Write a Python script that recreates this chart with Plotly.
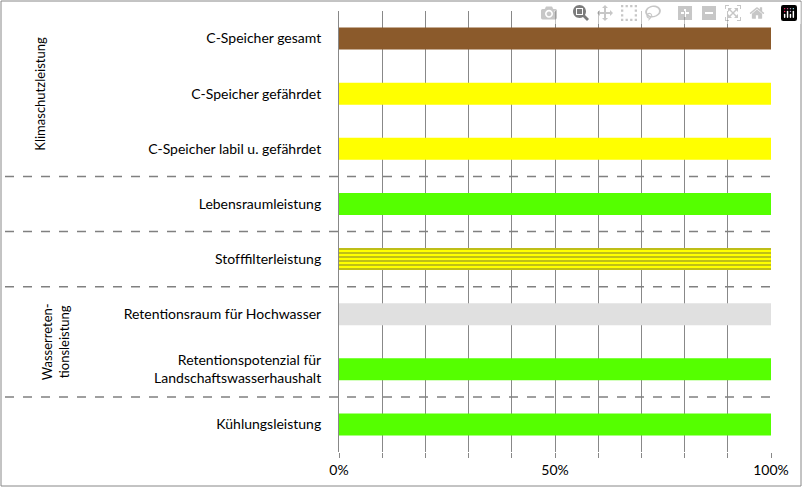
import plotly.graph_objects as go

# categories (top to bottom) and values
categories = [
    "C-Speicher gesamt",
    "C-Speicher gefährdet",
    "C-Speicher labil u. gefährdet",
    "Lebensraumleistung",
    "Stofffilterleistung",
    "Retentionsraum für Hochwasser",
    "Retentionspotenzial für<br>Landschaftswasserhaushalt",
    "Kühlungsleistung",
]
values = [1, 1, 1, 1, 1, 1, 1, 1]
colors = ["#8b5a2b", "#ffff00", "#ffff00", "#55ff00", "#ffff00", "#e0e0e0", "#55ff00", "#55ff00"]
patterns = ["", "", "", "", "-", "", "", ""]
separators = [2.5, 3.5, 4.5, 6.5]
x_tickvals = [0, 0.5, 1]
x_ticktext = ["0%", "50%", "100%"]

W, H = 803, 488
L, R, T, B = 339, 32, 11, 36
pw = W - L - R

fig = go.Figure(go.Bar(
    x=values, y=categories, orientation="h", width=0.4,
    marker=dict(color=colors, line=dict(width=0),
                pattern=dict(shape=patterns, fgcolor="black", bgcolor="#ffff00",
                             size=4, solidity=0.35)),
))

shapes = []
for s in separators:
    shapes.append(dict(type="line", xref="paper", yref="y", x0=(5 - L) / pw, x1=1,
                       y0=s, y1=s, line=dict(color="#808080", width=1.5, dash="dash")))
# chart frame
shapes.append(dict(type="rect", xref="paper", yref="paper",
                   x0=(1 - L) / pw, x1=1 + (R - 2) / pw,
                   y0=-(B - 2) / (H - T - B), y1=1 + (T - 1) / (H - T - B),
                   line=dict(color="#888888", width=1)))

fig.update_layout(
    width=W, height=H, margin=dict(l=L, r=R, t=T, b=B),
    plot_bgcolor="white", paper_bgcolor="white",
    font=dict(family="Lato, Open Sans, sans-serif", size=14, color="black"),
    showlegend=False, bargap=0.6, shapes=shapes,
    annotations=[
        dict(text="Klimaschutzleistung", xref="paper", yref="y", x=(30 - L) / pw, y=1,
             textangle=-90, showarrow=False, font=dict(size=13)),
        dict(text="Wasserreten-<br>tionsleistung", xref="paper", yref="y", x=(37 - L) / pw, y=5.5,
             textangle=-90, showarrow=False, font=dict(size=13)),
    ],
)
fig.update_xaxes(range=[0, 1], tickvals=x_tickvals, ticktext=x_ticktext,
                 showgrid=True, gridcolor="#888888", gridwidth=1,
                 ticks="outside", ticklen=5, tickcolor="#888888",
                 minor=dict(dtick=0.1, showgrid=True, gridcolor="#888888",
                            ticks="outside", ticklen=5, tickcolor="#888888"),
                 zeroline=False, showline=False, fixedrange=True)
fig.update_yaxes(autorange="reversed", showline=True, linecolor="#888888",
                 ticks="", ticklabelstandoff=14, showgrid=False)

fig.write_html("out.html", post_script="document.body.style.margin='0';")
